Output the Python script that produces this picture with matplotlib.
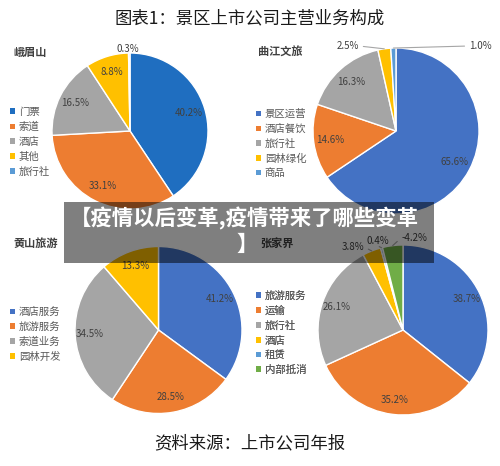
import matplotlib
matplotlib.use('Agg')
import matplotlib.pyplot as plt
from matplotlib.patches import Patch, Rectangle
import numpy as np

plt.rcParams['font.family'] = ['Noto Sans CJK SC', 'DejaVu Sans']

W, H = 500, 466

# ---------------- data ----------------
title = '图表1：景区上市公司主营业务构成'
source = '资料来源：上市公司年报'
banner_line1 = '【疫情以后变革,疫情带来了哪些变革'
banner_line2 = '】'

emei_name = '峨眉山'
emei_labels = ['门票', '索道', '酒店', '其他', '旅行社']
emei_values = [40.2, 33.1, 16.5, 8.8, 0.3]

qujiang_name = '曲江文旅'
qujiang_labels = ['景区运营', '酒店餐饮', '旅行社', '园林绿化', '商品']
qujiang_values = [65.6, 14.6, 16.3, 2.5, 1.0]

huangshan_name = '黄山旅游'
huangshan_labels = ['酒店服务', '旅游服务', '索道业务', '园林开发']
huangshan_values = [41.2, 28.5, 34.5, 13.3]

zjj_name = '张家界'
zjj_labels = ['旅游服务', '运输', '旅行社', '酒店', '租赁', '内部抵消']
zjj_values = [38.7, 35.2, 26.1, 3.8, 0.4, -4.2]

# ---------------- styles ----------------
BLUE1 = '#1F6EC0'
BLUE = '#4472C4'
ORANGE = '#ED7D31'
GREY = '#A5A5A5'
YELLOW = '#FFC000'
LBLUE = '#5B9BD5'
GREEN = '#70AD47'
TXT = '#404040'

fig = plt.figure(figsize=(W / 100, H / 100), dpi=100)
ax = fig.add_axes([0, 0, 1, 1])


def Y(y):
    return H - y


def draw_pie(values, colors, cx, cy, r, label_d, outside=None):
    sizes = [abs(v) for v in values]
    wedges, _ = ax.pie(sizes, colors=colors, startangle=90, counterclock=False,
                       center=(cx, Y(cy)), radius=r,
                       wedgeprops=dict(edgecolor='white', linewidth=1.0))
    outside = outside or {}
    for i, (w, v) in enumerate(zip(wedges, values)):
        txt = f'{v:.1f}%'
        th = np.deg2rad((w.theta1 + w.theta2) / 2)
        ex, ey = cx + r * np.cos(th), Y(cy) + r * np.sin(th)
        if i in outside:
            lx, ly, rel, line = outside[i]
            if line:
                ax.annotate(txt, xy=(ex, ey), xytext=(lx, Y(ly)),
                            ha='center', va='center', fontsize=7, color=TXT,
                            arrowprops=dict(arrowstyle='-', color='#A6A6A6', lw=0.8,
                                            shrinkA=1, shrinkB=0, relpos=rel))
            else:
                ax.text(lx, Y(ly), txt, ha='center', va='center', fontsize=7, color=TXT)
        else:
            ax.text(cx + label_d * r * np.cos(th), Y(cy) + label_d * r * np.sin(th), txt,
                    ha='center', va='center', fontsize=7, color=TXT)
    return wedges


def draw_legend(labels, colors, x, y):
    handles = [Patch(facecolor=c, edgecolor='none') for c in colors]
    leg = ax.legend(handles, labels, loc='upper left',
                    bbox_to_anchor=(x / W, 1 - y / H), bbox_transform=ax.transAxes,
                    frameon=False, fontsize=7.5, handlelength=0.45, handleheight=0.45,
                    handletextpad=0.4, labelspacing=0.45, borderpad=0, borderaxespad=0,
                    labelcolor='#595959')
    ax.add_artist(leg)


# 峨眉山
c1 = [BLUE1, ORANGE, GREY, YELLOW, LBLUE]
draw_pie(emei_values, c1, 130, 131, 78, 0.79, outside={4: (128, 49, (0.5, 0.5), False)})
draw_legend(emei_labels, c1, 10, 107)
ax.text(13, Y(52), emei_name, ha='left', va='center', fontsize=8, fontweight='bold', color=TXT)

# 曲江文旅
c2 = [BLUE, ORANGE, GREY, YELLOW, LBLUE]
draw_pie(qujiang_values, c2, 396, 131, 83, 0.8,
         outside={3: (348, 46, (1, 0.5), True), 4: (480, 46, (0, 0.5), True)})
draw_legend(qujiang_labels, c2, 256, 109)
ax.text(258, Y(52), qujiang_name, ha='left', va='center', fontsize=8, fontweight='bold', color=TXT)

# 黄山旅游
c3 = [BLUE, ORANGE, GREY, YELLOW]
draw_pie(huangshan_values, c3, 158.5, 330, 83.5, 0.82)
draw_legend(huangshan_labels, c3, 10, 307)
ax.text(13, Y(243), huangshan_name, ha='left', va='center', fontsize=8, fontweight='bold', color=TXT)

# 张家界
c4 = [BLUE, ORANGE, GREY, YELLOW, LBLUE, GREEN]
draw_pie(zjj_values, c4, 403, 330, 85, 0.83,
         outside={3: (353, 247, (1, 0.5), True), 4: (378, 241, (0.5, 0), True),
                  5: (414, 238, (0, 0.5), True)})
draw_legend(zjj_labels, c4, 256, 291)
ax.text(260, Y(243), zjj_name, ha='left', va='center', fontsize=8, fontweight='bold', color=TXT)

# title & source
ax.text(250, Y(18), title, ha='center', va='center', fontsize=12.5, color='#1a1a1a')
ax.text(250, Y(443), source, ha='center', va='center', fontsize=12.5, color='#1a1a1a')

# banner overlay
ax.add_patch(Rectangle((64, Y(263)), 370, 61, facecolor='black', alpha=0.5,
                       edgecolor='none', zorder=10))
ax.text(244, Y(218), banner_line1, ha='center', va='center', fontsize=15.4,
        fontweight='bold', color='white', zorder=11)
ax.text(247, Y(244), banner_line2, ha='center', va='center', fontsize=15.4,
        fontweight='bold', color='white', zorder=11)

ax.set_xlim(0, W)
ax.set_ylim(0, H)
ax.axis('off')

fig.savefig('out.png', dpi=100)
